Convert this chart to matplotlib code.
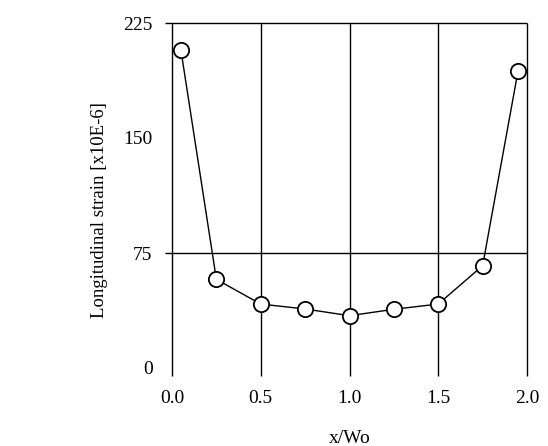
import matplotlib
matplotlib.use("Agg")
import matplotlib.pyplot as plt

x_vals = [0.05, 0.25, 0.5, 0.75, 1.0, 1.25, 1.5, 1.75, 1.95]
strain = [207.5, 57.8, 41.7, 38.5, 34.1, 38.3, 41.7, 66.7, 194.0]
x_ticks = [0.0, 0.5, 1.0, 1.5, 2.0]
x_tick_labels = ["0.0", "0.5", "1.0", "1.5", "2.0"]
y_ticks = [0, 75, 150, 225]
y_tick_labels = ["0", "75", "150", "225"]
h_grid = [75, 225]

plt.rcParams['font.family'] = ['Liberation Serif', 'DejaVu Serif']

fig = plt.figure(figsize=(5.48, 4.46), dpi=100)
ax = fig.add_axes([172/548, 1-368/446, (527-172)/548, (368-23)/446])
ax.set_xlim(0, 2)
ax.set_ylim(0, 225)
for s in ax.spines.values():
    s.set_visible(False)

ax.vlines(x_ticks, -5, 225, colors='black', linewidth=1.0, clip_on=False, zorder=1)
ax.hlines(h_grid, -0.04, 2.0, colors='black', linewidth=1.0, clip_on=False, zorder=1)

ax.plot(x_vals, strain, color='black', linewidth=1.0, marker='o', markersize=11,
        markerfacecolor='white', markeredgecolor='black', markeredgewidth=1.3,
        zorder=3, clip_on=False)

ax.set_xticks(x_ticks)
ax.set_xticklabels(x_tick_labels)
ax.set_yticks(y_ticks)
ax.set_yticklabels(y_tick_labels)
ax.tick_params(axis='both', length=0, labelsize=14)
ax.tick_params(axis='x', pad=16)
ax.tick_params(axis='y', pad=14)

ax.set_xlabel("x/Wo", fontsize=14)
ax.xaxis.set_label_coords(0.5, (368-430)/345)
ax.set_ylabel("Longitudinal strain [x10E-6]", fontsize=13.5)
ax.yaxis.set_label_coords((108-172)/355, (368-210)/345)

fig.savefig("out.png", dpi=100)
